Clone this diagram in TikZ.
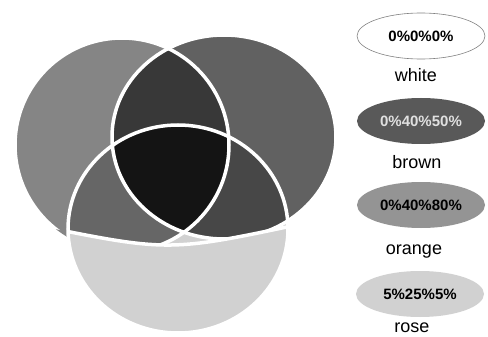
\documentclass[tikz,border=0pt]{standalone}
\usepackage{fontspec}
\setmainfont{Liberation Sans}
\usetikzlibrary{shapes.geometric}
\definecolor{cA}{gray}{0.52}
\definecolor{cB}{gray}{0.38}
\definecolor{cC}{gray}{0.82}
\definecolor{cAB}{gray}{0.22}
\definecolor{cAC}{gray}{0.40}
\definecolor{cBC}{gray}{0.28}
\definecolor{cABC}{gray}{0.08}
\definecolor{lbrown}{gray}{0.35}
\definecolor{lorange}{gray}{0.58}
\definecolor{lrose}{gray}{0.82}
\tikzset{
  sep/.style={draw=white, line width=3.5},
  key/.style={ellipse, minimum width=128, minimum height=46, inner sep=0pt,
    font=\fontsize{15}{15}\selectfont\bfseries},
  keylabel/.style={anchor=base, font=\fontsize{18}{18}\selectfont}
}
\def\circA{(122,145) ellipse [x radius=107, y radius=107]}
\def\circB{(224,137) ellipse [x radius=112, y radius=102]}
\def\circC{(178,229) ellipse [x radius=110, y radius=104]}
\def\below{(40,226) .. controls (170,252) .. (310,222) -- (310,345) -- (40,345) -- cycle}
\def\above{(-10,-10) -- (-10,226) -- (40,226) .. controls (170,252) .. (310,222) -- (350,222) -- (350,-10) -- cycle}
\begin{document}
\begin{tikzpicture}[x=1pt,y=-1pt]
\useasboundingbox (0,0) rectangle (488,337);
% single regions
\fill[cA] \circA;
\fill[cB] \circB;
\fill[cC] \circC;
% pair overlaps
\begin{scope}\clip \circA; \fill[cAB] \circB; \end{scope}
\begin{scope}\clip \circA; \fill[cAC] \circC; \end{scope}
\begin{scope}\clip \circB; \fill[cBC] \circC; \end{scope}
% triple overlap
\begin{scope}\clip \circA; \clip \circB; \fill[cABC] \circC; \end{scope}
% lower part of the bottom circle
\begin{scope}\clip \circC; \fill[cC] \below; \end{scope}
% white separating lines
\begin{scope}\clip \above;
  \draw[sep] \circA;
  \draw[sep] \circB;
\end{scope}
\draw[sep] \circC;
\begin{scope}\clip \circC;
  \draw[sep] (40,226) .. controls (170,252) .. (310,222);
\end{scope}
% legend
\node[key, fill=white, draw=gray, line width=0.6] (kw) at (421,36) {0\%0\%0\%};
\node[keylabel] (lw) at (416,82) {white};
\node[key, fill=lbrown, text=white!88!black] (kb) at (421,121) {0\%40\%50\%};
\node[keylabel] (lb) at (417,168) {brown};
\node[key, fill=lorange] (ko) at (421,205) {0\%40\%80\%};
\node[keylabel] (lo) at (414,254) {orange};
\node[key, fill=lrose] (kr) at (420,294) {5\%25\%5\%};
\node[keylabel] (lr) at (412,332) {rose};
\end{tikzpicture}
\end{document}
